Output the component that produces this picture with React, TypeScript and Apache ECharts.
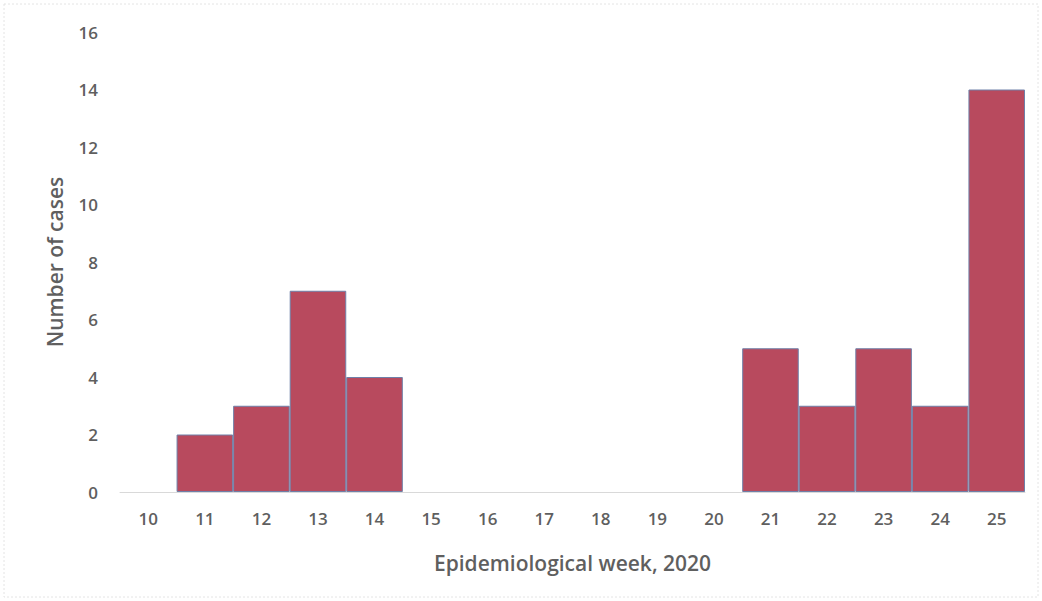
import React, { useEffect, useRef } from "react";
import * as echarts from "echarts";

const weeks = ["10", "11", "12", "13", "14", "15", "16", "17", "18", "19", "20", "21", "22", "23", "24", "25"];
const cases = [0, 2, 3, 7, 4, 0, 0, 0, 0, 0, 0, 5, 3, 5, 3, 14];

export default function App() {
  const ref = useRef<HTMLDivElement>(null);
  useEffect(() => {
    const chart = echarts.init(ref.current!, null, { renderer: "svg" });
    chart.setOption({
      animation: false,
      backgroundColor: "#ffffff",
      textStyle: { fontFamily: "Open Sans" },
      graphic: [
        {
          type: "rect",
          shape: { x: 4, y: 4, width: 1034, height: 593 },
          style: { fill: "none", stroke: "#e4e4e4", lineWidth: 1, lineDash: [2, 2] },
          silent: true,
        },
      ],
      grid: { left: 120, right: 17, top: 32, bottom: 109 },
      xAxis: {
        type: "category",
        data: weeks,
        name: "Epidemiological week, 2020",
        nameLocation: "middle",
        nameGap: 60,
        nameTextStyle: { fontSize: 21, color: "#5f5f5f", fontWeight: 600 },
        axisLine: { lineStyle: { color: "#d9d9d9", width: 1 } },
        axisTick: { show: false },
        axisLabel: { fontSize: 17, color: "#5f5f5f", fontWeight: 600, margin: 18 },
      },
      yAxis: {
        type: "value",
        min: 0,
        max: 16,
        interval: 2,
        name: "Number of cases",
        nameLocation: "middle",
        nameGap: 55,
        nameTextStyle: { fontSize: 21, color: "#5f5f5f", fontWeight: 600 },
        axisLine: { show: false },
        axisTick: { show: false },
        splitLine: { show: false },
        axisLabel: { fontSize: 17, color: "#5f5f5f", fontWeight: 600, margin: 22 },
      },
      series: [
        {
          type: "bar",
          data: cases.map((v) => ({
            value: v,
            itemStyle: v === 0 ? { borderWidth: 0 } : undefined,
          })),
          barCategoryGap: "0%",
          itemStyle: { color: "#b84a5e", borderColor: "#6f80a8", borderWidth: 1 },
        },
      ],
    });
    return () => chart.dispose();
  }, []);
  return <div ref={ref} style={{ position: "fixed", left: 0, top: 0, width: 1042, height: 601 }} />;
}
